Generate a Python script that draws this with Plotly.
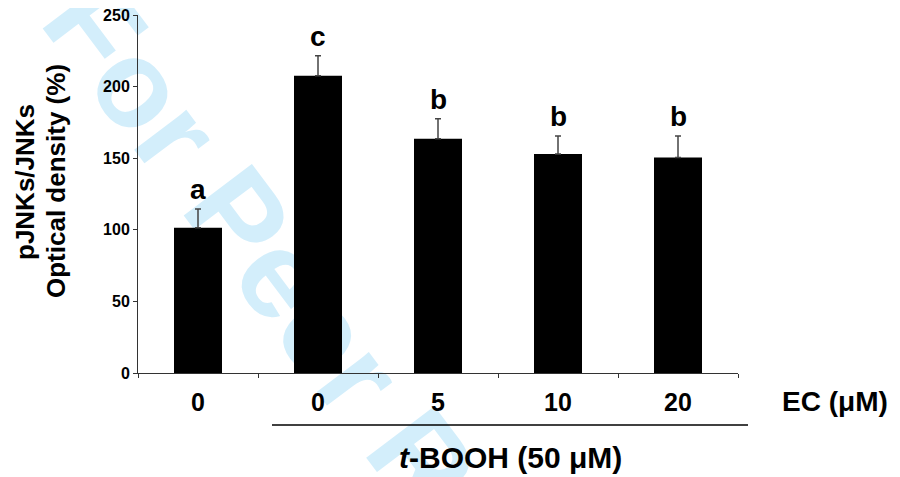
import plotly.graph_objects as go

groups = ["g1", "g2", "g3", "g4", "g5"]
ec_labels = ["0", "0", "5", "10", "20"]
values = [101.5, 207.5, 163.5, 153.0, 150.5]
errors = [13.0, 14.0, 14.0, 12.5, 15.0]
letters = ["a", "c", "b", "b", "b"]
y_ticks = [0, 50, 100, 150, 200, 250]

FONT = "Liberation Sans, Arial, sans-serif"
xpos = list(range(len(groups)))

# page body has an 8px margin; compensate so the plot lands where the reference has it
OFF = 8
W, H = 900 - OFF, 477 - OFF
PL, PR, PT, PB = 138, 738, 15, 373  # plot area in page pixels


def px(xp):
    return (xp - PL) / (PR - PL)


def py(yp):
    return (PB - yp) / (PB - PT)


fig = go.Figure()
fig.add_trace(go.Bar(
    x=xpos, y=values, width=0.4,
    marker=dict(color="black", line=dict(width=0)),
    error_y=dict(type="data", array=errors, symmetric=False, arrayminus=[0]*5,
                 color="#444444", thickness=1.5, width=3),
    showlegend=False, hoverinfo="skip",
))

# watermark, drawn beneath the bars
wx, wy = px(372), py(374)
fig.add_shape(type="rect", xref="paper", yref="paper", layer="below",
              x0=wx - 0.001, x1=wx + 0.001, y0=wy - 0.001, y1=wy + 0.001,
              line=dict(width=0), fillcolor="rgba(0,0,0,0)",
              label=dict(text="For Peer Review", textangle=53,
                         textposition="middle center",
                         font=dict(family=FONT, size=124, color="#d3eefb",
                                   weight="bold")))

for i, (v, e, l) in enumerate(zip(values, errors, letters)):
    fig.add_annotation(x=i, y=v + e, text=f"<b>{l}</b>", showarrow=False,
                       xanchor="center", yanchor="bottom", yshift=2,
                       font=dict(family=FONT, size=28, color="black"))

fig.add_annotation(x=px(25), y=py(182), xref="paper", yref="paper",
                   xanchor="center", yanchor="middle",
                   text="<b>pJNKs/JNKs</b>", textangle=-90,
                   showarrow=False, font=dict(family=FONT, size=26, color="black"))
fig.add_annotation(x=px(56), y=py(181), xref="paper", yref="paper",
                   xanchor="center", yanchor="middle",
                   text="<b>Optical density (%)</b>", textangle=-90,
                   showarrow=False, font=dict(family=FONT, size=26, color="black"))
fig.add_annotation(x=px(835), y=py(401), xref="paper", yref="paper",
                   xanchor="center", yanchor="middle",
                   text="<b>EC (μM)</b>", showarrow=False,
                   font=dict(family=FONT, size=28, color="black"))
fig.add_annotation(x=px(510), y=py(457), xref="paper", yref="paper",
                   xanchor="center", yanchor="middle",
                   text="<b><i>t</i>-BOOH (50 μM)</b>", showarrow=False,
                   font=dict(family=FONT, size=30, color="black"))
fig.add_shape(type="line", xref="paper", yref="paper",
              x0=px(272), x1=px(748), y0=py(425), y1=py(425),
              line=dict(color="black", width=1.5))

fig.update_layout(
    width=W, height=H,
    margin=dict(l=PL - OFF, r=W - (PR - OFF), t=PT - OFF, b=H - (PB - OFF),
                autoexpand=False),
    paper_bgcolor="white", plot_bgcolor="rgba(0,0,0,0)",
    bargap=0.6,
    xaxis=dict(
        range=[-0.5, 4.5], tickmode="array", tickvals=xpos,
        ticktext=[f"<b>{t}</b>" for t in ec_labels],
        ticks="", showgrid=False, zeroline=False, automargin=False,
        showline=True, linecolor="#333333", linewidth=1,
        tickfont=dict(family=FONT, size=25, color="black"),
        ticklabelstandoff=7,
        minor=dict(tickmode="array", tickvals=[-0.5, 0.5, 1.5, 2.5, 3.5, 4.5],
                   ticks="outside", ticklen=4, tickcolor="#333333", tickwidth=1,
                   showgrid=False),
    ),
    yaxis=dict(
        range=[0, 250], tickmode="array", tickvals=y_ticks,
        ticktext=[f"<b>{t}</b>" for t in y_ticks],
        ticks="outside", ticklen=4, tickcolor="#333333", tickwidth=1,
        showgrid=False, zeroline=False, automargin=False,
        ticklabeloverflow="allow",
        showline=True, linecolor="#333333", linewidth=1,
        tickfont=dict(family=FONT, size=16, color="black"),
    ),
)

fig.write_html("out.html")
